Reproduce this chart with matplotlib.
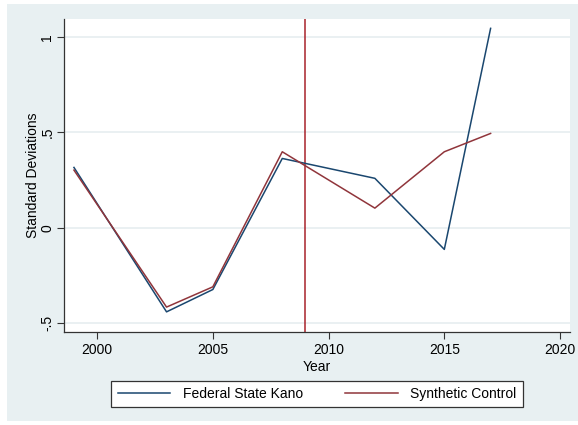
import matplotlib
matplotlib.use("Agg")
import matplotlib.pyplot as plt
from matplotlib.patches import Rectangle

plt.rcParams['font.family'] = ['Liberation Sans', 'DejaVu Sans']

years = [1999, 2003, 2005, 2008, 2012, 2015, 2017]
kano = [0.316, -0.440, -0.323, 0.363, 0.259, -0.113, 1.044]
synthetic = [0.302, -0.415, -0.309, 0.398, 0.103, 0.398, 0.494]
treatment_year = 2009
x_ticks = [2000, 2005, 2010, 2015, 2020]
y_ticks = [-0.5, 0, 0.5, 1]
y_tick_labels = ["-.5", "0", ".5", "1"]

W, H = 578, 425
fig = plt.figure(figsize=(W / 100, H / 100), dpi=100)
fig.patch.set_facecolor("white")
bg = "#E8F0F2"
fig.patches.append(Rectangle((7 / W, 4 / H), 1 - 7 / W, (421 - 4) / H,
                             transform=fig.transFigure, facecolor=bg,
                             edgecolor="none", zorder=-10))

ax = fig.add_axes([64 / W, 1 - 332.3 / H, (570 - 64) / W, (332.3 - 19) / H])
ax.set_zorder(1)
ax.set_facecolor("white")
ax.set_xlim(1998.57, 2020.43)
ax.set_ylim(-0.547, 1.093)

for yv in y_ticks:
    ax.axhline(yv, color="#E6EEF0", lw=1.2, zorder=1)

ax.axvline(treatment_year, color="#A8232B", lw=1.1, zorder=2)
l1, = ax.plot(years, kano, color="#1A476F", lw=1.1, zorder=3, label="Federal State Kano")
l2, = ax.plot(years, synthetic, color="#90353B", lw=1.1, zorder=3, label="Synthetic Control")

ax.set_xticks(x_ticks)
ax.set_xticklabels([str(x) for x in x_ticks], fontsize=10)
ax.set_yticks(y_ticks)
ax.set_yticklabels(y_tick_labels, fontsize=10, rotation=90, va="center")
ax.tick_params(axis="both", direction="out", length=5, width=0.8, color="#333333", pad=3)
ax.tick_params(axis="y", pad=2)
for s in ["top", "right"]:
    ax.spines[s].set_visible(False)
for s in ["left", "bottom"]:
    ax.spines[s].set_color("#333333")
    ax.spines[s].set_linewidth(0.9)

ax.set_xlabel("Year", fontsize=10, labelpad=2)
ax.set_ylabel("Standard Deviations", fontsize=10, labelpad=0)

leg = fig.legend(handles=[l1, l2], loc="center", ncol=2,
                 bbox_to_anchor=(317 / W, 1 - 394 / H), frameon=True,
                 fancybox=False, fontsize=10, handlelength=3.8,
                 columnspacing=3.0, handletextpad=0.9, borderpad=0.45,
                 framealpha=1)
leg.set_zorder(2)
leg.get_frame().set_edgecolor("#333333")
leg.get_frame().set_linewidth(0.9)
leg.get_frame().set_facecolor("white")

fig.savefig("out.png", dpi=100, facecolor=fig.get_facecolor())
